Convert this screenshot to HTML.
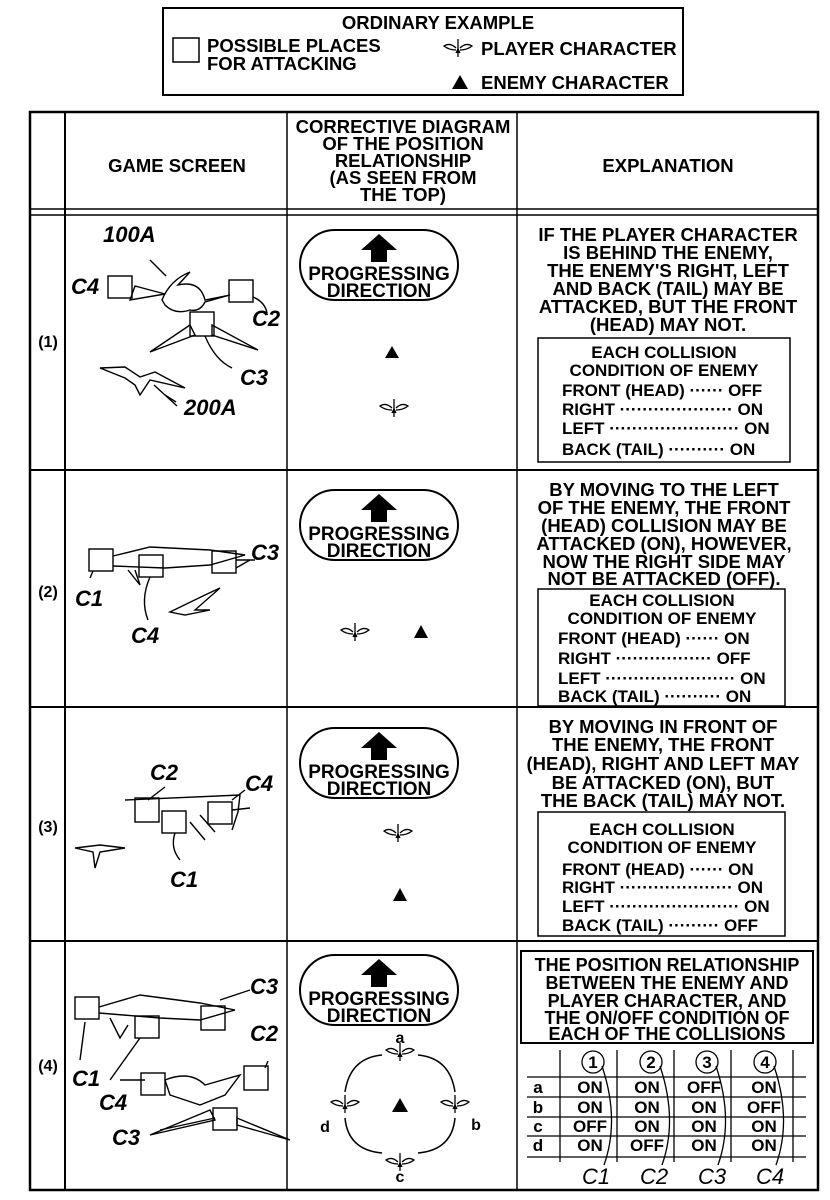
<!DOCTYPE html>
<html><head><meta charset="utf-8"><style>
html,body{margin:0;padding:0;background:#fff}
svg{display:block}
text{font-family:"Liberation Sans",Arial,sans-serif;font-weight:bold;fill:#000}
.h{font-size:18.5px}
.e{font-size:18.5px}
.b{font-size:17px}
.i{font-style:italic;font-weight:normal;font-size:22px}
.s{font-size:16px}
</style></head><body>
<svg width="830" height="1200" viewBox="0 0 830 1200" xmlns="http://www.w3.org/2000/svg">
<defs>
<g id="pl" fill="none" stroke="#000" stroke-width="1.3">
<path d="M0,-9 L0,9"/><path d="M-2,0 Q-8,-6 -14,-2 Q-9,2 -2,2"/><path d="M2,0 Q8,-6 14,-2 Q9,2 2,2"/><path d="M-2,5 L0,1 L2,5" fill="#000"/>
</g>
<g id="pill">
<rect x="0" y="0" width="158" height="70" rx="35" fill="none" stroke="#000" stroke-width="2"/>
<polygon points="79,4 97,20 87,20 87,32 71,32 71,20 61,20" fill="#000"/>
<text x="79" y="50" text-anchor="middle" style="font-size:19px">PROGRESSING</text>
<text x="79" y="67" text-anchor="middle" style="font-size:19px">DIRECTION</text>
</g>
</defs>

<rect x="163" y="8" width="520" height="87" fill="none" stroke="#000" stroke-width="2"/>
<text x="438" y="29" text-anchor="middle" class="h">ORDINARY EXAMPLE</text>
<rect x="173" y="38" width="26" height="24" fill="none" stroke="#000" stroke-width="1.5"/>
<text x="207" y="52" class="h">POSSIBLE PLACES</text>
<text x="207" y="70" class="h">FOR ATTACKING</text>
<use href="#pl" x="458" y="48"/>
<text x="481" y="55" class="h">PLAYER CHARACTER</text>
<polygon points="460,75 468,89 452,89" fill="#000"/>
<text x="481" y="89" class="h">ENEMY CHARACTER</text>

<g stroke="#000" fill="none">
<rect x="30" y="112" width="788" height="1078" stroke-width="2.5"/>
<line x1="65" y1="112" x2="65" y2="1190" stroke-width="2"/>
<line x1="287" y1="112" x2="287" y2="1190" stroke-width="1.5"/>
<line x1="517" y1="112" x2="517" y2="1190" stroke-width="1.5"/>
<line x1="30" y1="209" x2="818" y2="209" stroke-width="1.5"/>
<line x1="30" y1="215" x2="818" y2="215" stroke-width="1.5"/>
<line x1="30" y1="470" x2="818" y2="470" stroke-width="2"/>
<line x1="30" y1="707" x2="818" y2="707" stroke-width="2"/>
<line x1="30" y1="941" x2="818" y2="941" stroke-width="2"/>
</g>
<text x="177" y="172" text-anchor="middle" class="h">GAME SCREEN</text>
<g text-anchor="middle" class="h">
<text x="403" y="133">CORRECTIVE DIAGRAM</text>
<text x="403" y="150">OF THE POSITION</text>
<text x="403" y="167">RELATIONSHIP</text>
<text x="403" y="184">(AS SEEN FROM</text>
<text x="403" y="201">THE TOP)</text>
</g>
<text x="668" y="172" text-anchor="middle" class="h">EXPLANATION</text>
<text x="48" y="347" text-anchor="middle" class="s">(1)</text>
<text x="48" y="597" text-anchor="middle" class="s">(2)</text>
<text x="48" y="832" text-anchor="middle" class="s">(3)</text>
<text x="48" y="1071" text-anchor="middle" class="s">(4)</text>

<use href="#pill" x="300" y="230"/>
<use href="#pill" x="300" y="490"/>
<use href="#pill" x="300" y="728"/>
<use href="#pill" x="300" y="955"/>

<polygon points="392,346 399,358 385,358" fill="#000"/>
<use href="#pl" x="394" y="408"/>
<use href="#pl" x="355" y="632"/>
<polygon points="421,625 428,638 414,638" fill="#000"/>
<use href="#pl" x="398" y="833"/>
<polygon points="400,888 407,901 393,901" fill="#000"/>
<text x="400" y="1043" text-anchor="middle" class="s">a</text>
<use href="#pl" x="400" y="1052"/>
<use href="#pl" x="345" y="1104"/>
<use href="#pl" x="455" y="1104"/>
<use href="#pl" x="400" y="1162"/>
<polygon points="400,1098 408,1112 392,1112" fill="#000"/>
<text x="325" y="1132" text-anchor="middle" class="s">d</text>
<text x="476" y="1130" text-anchor="middle" class="s">b</text>
<text x="400" y="1182" text-anchor="middle" class="s">c</text>
<g fill="none" stroke="#000" stroke-width="1.5">
<path d="M382,1055 Q350,1058 345,1092"/>
<path d="M418,1055 Q450,1058 455,1092"/>
<path d="M345,1118 Q348,1150 382,1153"/>
<path d="M455,1118 Q452,1150 418,1153"/>
</g>

<g text-anchor="middle" class="e">
<text x="668" y="241">IF THE PLAYER CHARACTER</text>
<text x="668" y="259">IS BEHIND THE ENEMY,</text>
<text x="668" y="277">THE ENEMY'S RIGHT, LEFT</text>
<text x="668" y="295">AND BACK (TAIL) MAY BE</text>
<text x="668" y="313">ATTACKED, BUT THE FRONT</text>
<text x="668" y="331">(HEAD) MAY NOT.</text>
</g>
<rect x="538" y="338" width="252" height="124" fill="none" stroke="#000" stroke-width="1.5"/>
<g class="b"><text x="664" y="358" text-anchor="middle">EACH COLLISION</text>
<text x="664" y="376" text-anchor="middle">CONDITION OF ENEMY</text>
<text x="562" y="396">FRONT (HEAD) ······ OFF</text>
<text x="562" y="415">RIGHT ···················· ON</text>
<text x="562" y="434">LEFT ······················· ON</text>
<text x="562" y="455">BACK (TAIL) ·········· ON</text></g>

<g text-anchor="middle" class="e">
<text x="664" y="496">BY MOVING TO THE LEFT</text>
<text x="664" y="514">OF THE ENEMY, THE FRONT</text>
<text x="664" y="532">(HEAD) COLLISION MAY BE</text>
<text x="664" y="550">ATTACKED (ON), HOWEVER,</text>
<text x="664" y="568">NOW THE RIGHT SIDE MAY</text>
<text x="664" y="585">NOT BE ATTACKED (OFF).</text>
</g>
<rect x="538" y="589" width="247" height="117" fill="none" stroke="#000" stroke-width="1.5"/>
<g class="b"><text x="662" y="606" text-anchor="middle">EACH COLLISION</text>
<text x="662" y="624" text-anchor="middle">CONDITION OF ENEMY</text>
<text x="558" y="644">FRONT (HEAD) ······ ON</text>
<text x="558" y="664">RIGHT ················· OFF</text>
<text x="558" y="684">LEFT ······················· ON</text>
<text x="558" y="702">BACK (TAIL) ·········· ON</text></g>

<g text-anchor="middle" class="e">
<text x="663" y="733">BY MOVING IN FRONT OF</text>
<text x="663" y="751">THE ENEMY, THE FRONT</text>
<text x="663" y="770">(HEAD), RIGHT AND LEFT MAY</text>
<text x="663" y="789">BE ATTACKED (ON), BUT</text>
<text x="663" y="807">THE BACK (TAIL) MAY NOT.</text>
</g>
<rect x="538" y="812" width="247" height="124" fill="none" stroke="#000" stroke-width="1.5"/>
<g class="b"><text x="662" y="835" text-anchor="middle">EACH COLLISION</text>
<text x="662" y="853" text-anchor="middle">CONDITION OF ENEMY</text>
<text x="562" y="875">FRONT (HEAD) ······ ON</text>
<text x="562" y="893">RIGHT ···················· ON</text>
<text x="562" y="912">LEFT ······················· ON</text>
<text x="562" y="931">BACK (TAIL) ········· OFF</text></g>

<rect x="521" y="951" width="292" height="92" fill="none" stroke="#000" stroke-width="2"/>
<g text-anchor="middle" class="e" style="font-size:18px">
<text x="667" y="971">THE POSITION RELATIONSHIP</text>
<text x="667" y="989">BETWEEN THE ENEMY AND</text>
<text x="667" y="1007">PLAYER CHARACTER, AND</text>
<text x="667" y="1024">THE ON/OFF CONDITION OF</text>
<text x="667" y="1040">EACH OF THE COLLISIONS</text>
</g>
<g stroke="#000" stroke-width="1.3" fill="none">
<line x1="527" y1="1077" x2="806" y2="1077"/>
<line x1="527" y1="1097" x2="806" y2="1097"/>
<line x1="527" y1="1117" x2="806" y2="1117"/>
<line x1="527" y1="1136" x2="806" y2="1136"/>
<line x1="527" y1="1157" x2="806" y2="1157"/>
<line x1="560" y1="1050" x2="560" y2="1162"/>
<line x1="617" y1="1050" x2="617" y2="1162"/>
<line x1="674" y1="1050" x2="674" y2="1162"/>
<line x1="731" y1="1050" x2="731" y2="1162"/>
<line x1="793" y1="1050" x2="793" y2="1162"/>
<circle cx="593" cy="1062" r="11"/><circle cx="651" cy="1062" r="11"/><circle cx="707" cy="1062" r="11"/><circle cx="765" cy="1062" r="11"/>
<path d="M602,1066 Q620,1120 604,1165"/>
<path d="M660,1066 Q678,1120 662,1165"/>
<path d="M716,1066 Q734,1120 718,1165"/>
<path d="M774,1066 Q792,1120 776,1165"/>
</g>
<g text-anchor="middle" class="s" style="font-size:17px">
<text x="593" y="1068">1</text><text x="651" y="1068">2</text><text x="707" y="1068">3</text><text x="765" y="1068">4</text>
<text x="538" y="1093">a</text><text x="538" y="1113">b</text><text x="538" y="1132">c</text><text x="538" y="1151">d</text>
<text x="590" y="1093">ON</text><text x="647" y="1093">ON</text><text x="704" y="1093">OFF</text><text x="764" y="1093">ON</text>
<text x="590" y="1113">ON</text><text x="647" y="1113">ON</text><text x="704" y="1113">ON</text><text x="764" y="1113">OFF</text>
<text x="590" y="1132">OFF</text><text x="647" y="1132">ON</text><text x="704" y="1132">ON</text><text x="764" y="1132">ON</text>
<text x="590" y="1151">ON</text><text x="647" y="1151">OFF</text><text x="704" y="1151">ON</text><text x="764" y="1151">ON</text>
</g>
<text x="582" y="1184" class="i">C1</text><text x="640" y="1184" class="i">C2</text><text x="698" y="1184" class="i">C3</text><text x="756" y="1184" class="i">C4</text>

<g fill="none" stroke="#000" stroke-width="1.4">
<path d="M135,286 L165,294 L130,300 Z"/>
<path d="M162,300 Q170,280 190,272 L178,285 Q200,280 205,300 L230,295 L205,302 Q200,312 190,310 Q175,315 165,305 Z"/>
<path d="M190,325 L150,352 L195,335 Z M212,325 L258,350 L212,335 Z"/>
<rect x="108" y="276" width="24" height="22"/><rect x="229" y="280" width="24" height="22"/><rect x="190" y="312" width="24" height="24"/>
<path d="M253,297 Q265,302 267,313"/><path d="M205,336 Q215,360 232,368"/>
<path d="M150,260 L166,276"/><path d="M165,395 L176,402"/>
<path d="M100,368 L125,367 L140,377 L155,372 L185,388 L150,380 L140,395 L135,385 L125,378 Z"/>
<path d="M177,406 L154,385"/>
<rect x="89" y="549" width="24" height="22"/><rect x="139" y="555" width="24" height="22"/><rect x="212" y="551" width="24" height="22"/>
<path d="M113,556 L150,547 L210,550 L245,555 L210,565 L165,568 L113,566"/>
<path d="M128,570 L140,585 L135,570 M236,560 L255,560"/>
<path d="M93,571 L90,578"/><path d="M150,577 Q140,600 148,620"/><path d="M236,568 L250,560"/>
<path d="M170,612 L205,595 L220,588 L195,610 L210,610 L185,615 Z"/>
<rect x="135" y="798" width="24" height="24"/><rect x="162" y="811" width="24" height="22"/><rect x="208" y="802" width="24" height="22"/>
<path d="M125,800 L240,795 L238,812 L232,830"/><path d="M200,815 L215,832 M190,822 L205,840 M232,810 L250,808"/>
<path d="M165,787 L148,800"/><path d="M175,833 Q170,848 180,860"/><path d="M245,790 L232,800"/>
<path d="M75,848 L100,845 L125,848 L100,852 L95,868 L93,852 Z"/>
<rect x="75" y="997" width="24" height="22"/><rect x="135" y="1016" width="24" height="22"/><rect x="201" y="1006" width="24" height="24"/>
<path d="M99,1007 L140,995 L200,1003 L235,1010 L200,1020 L160,1018 L99,1013"/>
<path d="M110,1018 L120,1038 L128,1025"/>
<path d="M85,1022 L80,1060"/><path d="M140,1038 L110,1080"/><path d="M220,1000 L250,990"/>
<rect x="141" y="1073" width="24" height="22"/><rect x="244" y="1066" width="24" height="24"/><rect x="213" y="1108" width="24" height="22"/>
<path d="M165,1080 Q190,1070 205,1085 L240,1075 L225,1095 L200,1105 L170,1095 Z"/>
<path d="M210,1110 L150,1135 L215,1120 Z M237,1125 L290,1140 L237,1118 Z"/>
<path d="M268,1061 L265,1068"/><path d="M160,1130 L215,1118"/><path d="M120,1080 L145,1080"/>
</g>
<g class="i">
<text x="103" y="242">100A</text><text x="71" y="294">C4</text><text x="252" y="326">C2</text><text x="240" y="385">C3</text><text x="184" y="415">200A</text>
<text x="75" y="606">C1</text><text x="251" y="560">C3</text><text x="131" y="643">C4</text>
<text x="150" y="780">C2</text><text x="245" y="791">C4</text><text x="170" y="887">C1</text>
<text x="250" y="994">C3</text><text x="250" y="1041">C2</text><text x="72" y="1086">C1</text><text x="99" y="1110">C4</text><text x="112" y="1145">C3</text>
</g>
</svg>
</body></html>
